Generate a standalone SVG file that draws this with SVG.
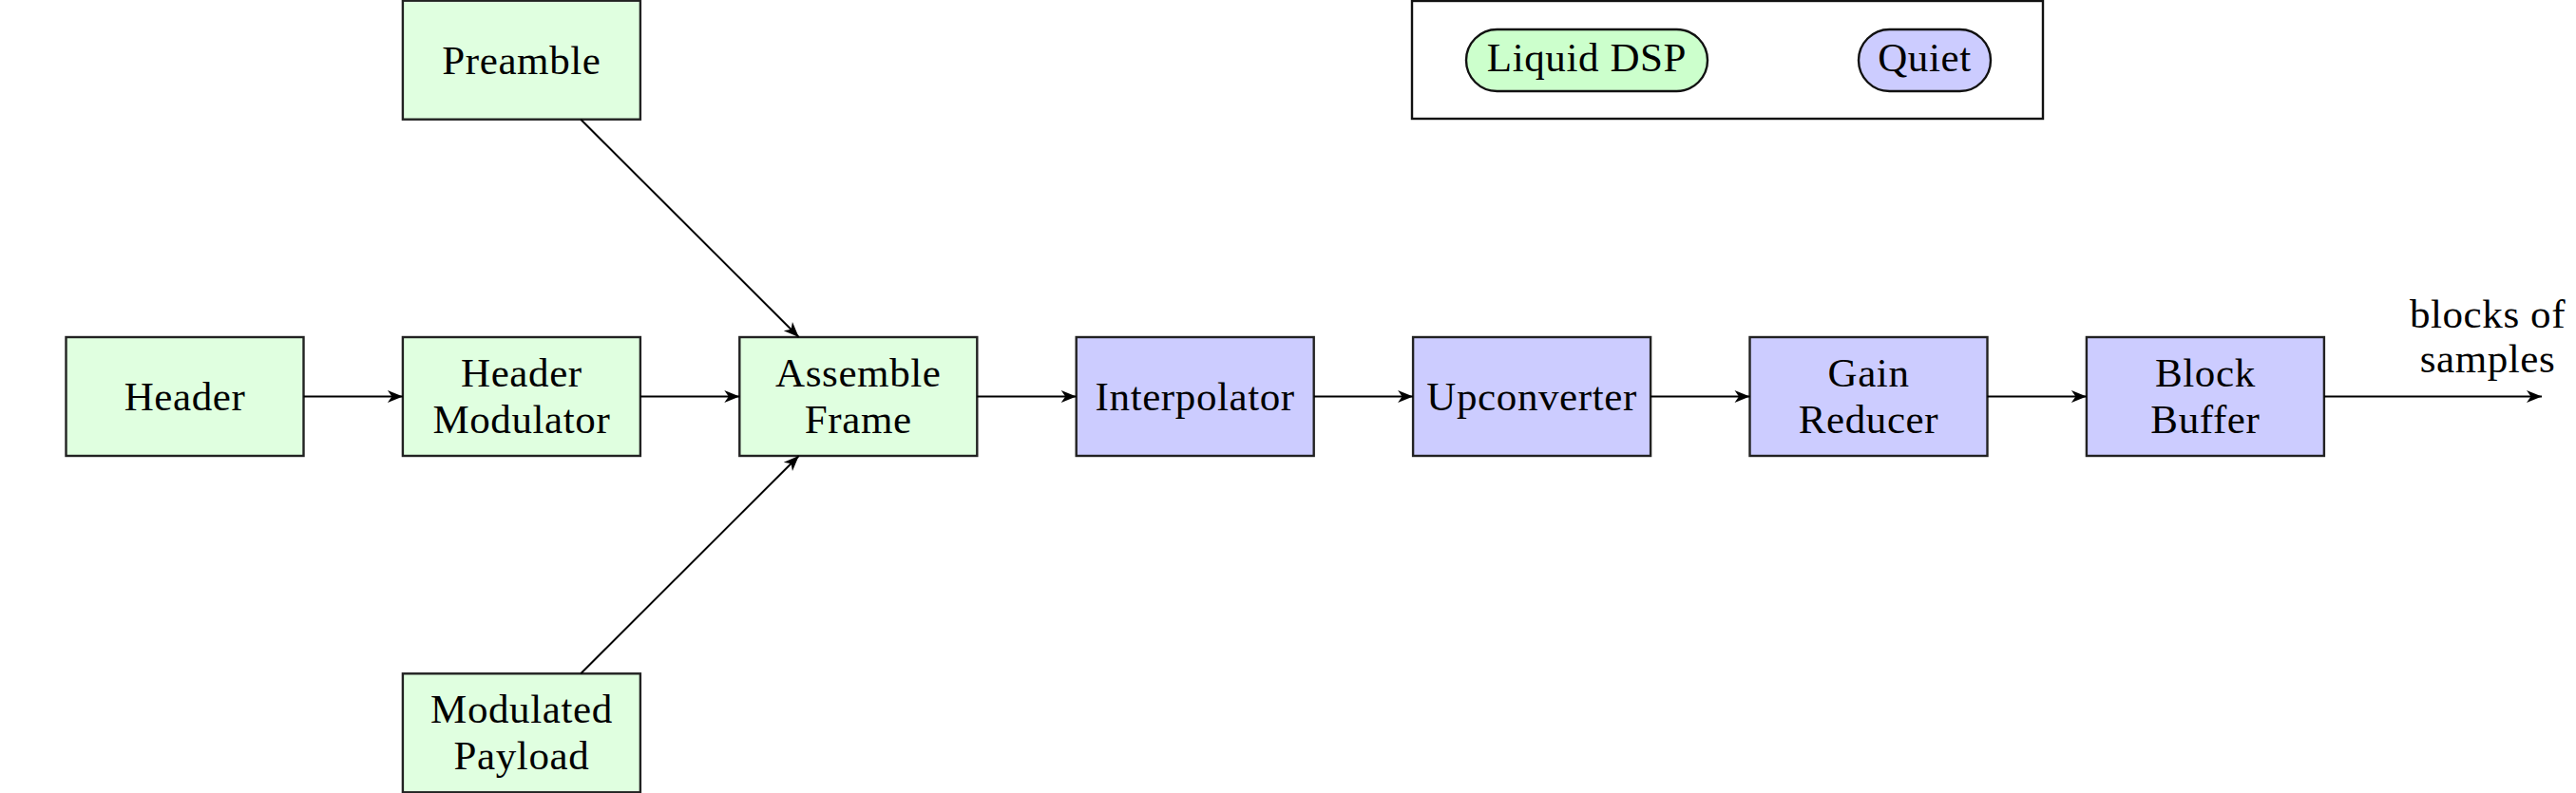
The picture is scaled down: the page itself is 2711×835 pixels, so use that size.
<svg xmlns="http://www.w3.org/2000/svg" width="2711" height="835" viewBox="0 0 2711 835">
<style>
.g{fill:#e0ffe0;stroke:#222;stroke-width:2.4}
.b{fill:#ccccff;stroke:#222;stroke-width:2.4}
.pg{fill:#ccffcc;stroke:#111;stroke-width:2.4}
.pb{fill:#ccccff;stroke:#111;stroke-width:2.4}
.lg{fill:#ffffff;stroke:#111;stroke-width:2.4}
text{font-family:"Liberation Serif","DejaVu Serif",serif;font-size:43px;letter-spacing:0.6px;fill:#000;text-anchor:middle}
.c line{stroke:#000;stroke-width:2;marker-end:url(#arr)}
</style>
<defs>
<marker id="arr" viewBox="-18 -8 19 16" refX="0" refY="0" markerWidth="19" markerHeight="16" markerUnits="userSpaceOnUse" orient="auto">
<path d="M0,0 L-16,-6.5 L-11.5,0 L-16,6.5 Z" fill="#000"/>
</marker>
</defs>
<rect width="2711" height="835" fill="#fff"/>
<g id="legend">
<rect class="lg" x="1486" y="1" width="664" height="124"/>
<g id="legend-liquid"><rect class="pg" x="1543" y="31" width="254" height="65" rx="32.5" ry="32.5"/><text x="1670" y="75">Liquid DSP</text></g>
<g id="legend-quiet"><rect class="pb" x="1956" y="31" width="139" height="65" rx="32.5" ry="32.5"/><text x="2025.5" y="75">Quiet</text></g>
</g>
<g id="preamble"><rect class="g" x="423.9" y="0.7" width="250" height="125"/><text x="548.9" y="77.5">Preamble</text></g>
<g id="header"><rect class="g" x="69.5" y="355" width="250" height="125"/><text x="194.5" y="431.5">Header</text></g>
<g id="header-modulator"><rect class="g" x="423.9" y="355" width="250" height="125"/><text x="548.9" y="407">Header</text><text x="548.9" y="456">Modulator</text></g>
<g id="assemble-frame"><rect class="g" x="778.3" y="355" width="250" height="125"/><text x="903.3" y="407">Assemble</text><text x="903.3" y="456">Frame</text></g>
<g id="interpolator"><rect class="b" x="1132.7" y="355" width="250" height="125"/><text x="1257.7" y="431.5">Interpolator</text></g>
<g id="upconverter"><rect class="b" x="1487.1" y="355" width="250" height="125"/><text x="1612.1" y="431.5">Upconverter</text></g>
<g id="gain-reducer"><rect class="b" x="1841.5" y="355" width="250" height="125"/><text x="1966.5" y="407">Gain</text><text x="1966.5" y="456">Reducer</text></g>
<g id="block-buffer"><rect class="b" x="2195.9" y="355" width="250" height="125"/><text x="2320.9" y="407">Block</text><text x="2320.9" y="456">Buffer</text></g>
<g id="modulated-payload"><rect class="g" x="423.9" y="709.3" width="250" height="125"/><text x="548.9" y="761.3">Modulated</text><text x="548.9" y="810.3">Payload</text></g>
<g id="output-label"><text x="2618" y="345">blocks of</text><text x="2618" y="392">samples</text></g>
<g id="connectors" class="c">
<line x1="319.5" y1="417.5" x2="423.9" y2="417.5"/>
<line x1="673.9" y1="417.5" x2="778.3" y2="417.5"/>
<line x1="611.2" y1="125.7" x2="840.7" y2="355"/>
<line x1="611.2" y1="709.3" x2="840.7" y2="480"/>
<line x1="1028.3" y1="417.5" x2="1132.7" y2="417.5"/>
<line x1="1382.7" y1="417.5" x2="1487.1" y2="417.5"/>
<line x1="1737.1" y1="417.5" x2="1841.5" y2="417.5"/>
<line x1="2091.5" y1="417.5" x2="2195.9" y2="417.5"/>
<line x1="2445.9" y1="417.5" x2="2675" y2="417.5"/>
</g>
</svg>
